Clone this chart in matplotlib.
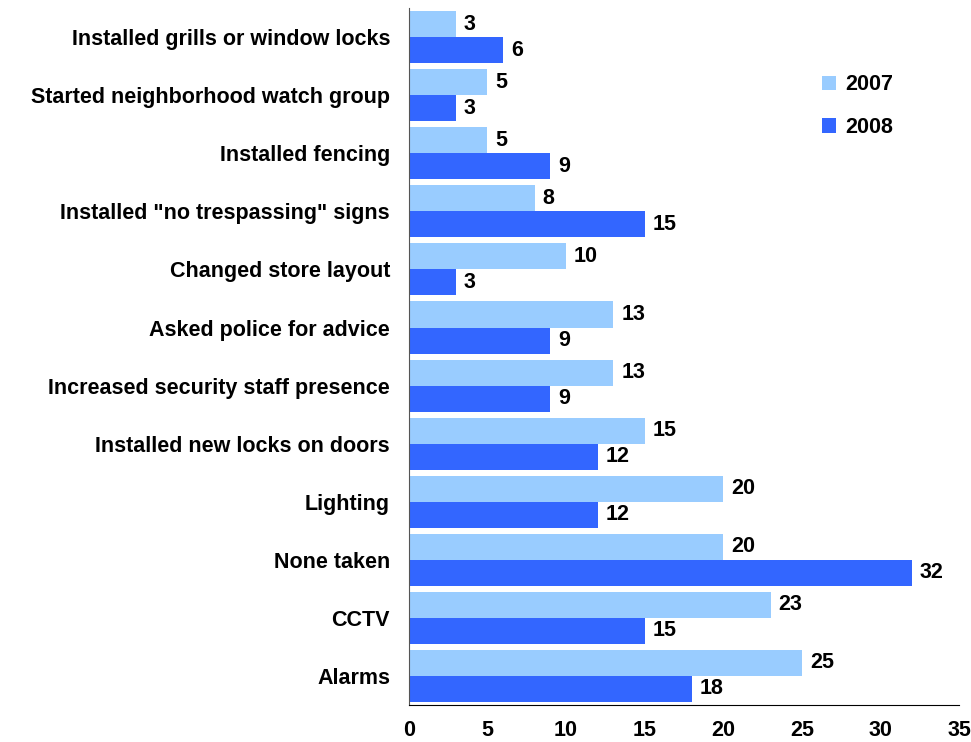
import matplotlib.pyplot as plt
import numpy as np

plt.rcParams['font.family'] = ['Liberation Sans', 'DejaVu Sans']
plt.rcParams['font.weight'] = 'bold'

# Actions taken, listed from top to bottom
actions = ['Installed grills or window locks',
           'Started neighborhood watch group',
           'Installed fencing',
           'Installed "no trespassing" signs',
           'Changed store layout',
           'Asked police for advice',
           'Increased security staff presence',
           'Installed new locks on doors',
           'Lighting',
           'None taken',
           'CCTV',
           'Alarms']
v2007 = [3, 5, 5, 8, 10, 13, 13, 15, 20, 20, 23, 25]
v2008 = [6, 3, 9, 15, 3, 9, 9, 12, 12, 32, 15, 18]

fs = 15.5

fig = plt.figure(figsize=(9.71, 7.42), dpi=100)
ax = fig.add_axes([0.421, 0.050, 0.567, 0.939])

y = np.arange(len(actions))
h = 0.448
b1 = ax.barh(y - h / 2, v2007, height=h, color='#99CCFF', label='2007')
b2 = ax.barh(y + h / 2, v2008, height=h, color='#3366FF', label='2008')

# Value labels next to each bar
for bars, vals in ((b1, v2007), (b2, v2008)):
    for bar, v in zip(bars, vals):
        ax.text(v + 0.5, bar.get_y() + bar.get_height() / 2, str(v),
                va='center', ha='left', fontsize=fs, fontweight='bold')

ax.set_xlim(0, 35)
ax.set_ylim(len(actions) - 0.5, -0.5)
ax.set_xticks(range(0, 36, 5))
ax.set_yticks(y)
ax.set_yticklabels(actions)
ax.tick_params(axis='both', length=0, labelsize=fs)
ax.tick_params(axis='x', pad=11)
ax.tick_params(axis='y', pad=13.5)

for side in ('top', 'right'):
    ax.spines[side].set_visible(False)
ax.spines['left'].set_color('#555555')
ax.spines['bottom'].set_color('black')

ax.legend(loc='upper left', bbox_to_anchor=(0.751, 0.905), frameon=False,
          fontsize=fs, handlelength=0.65, handleheight=0.65, labelspacing=1.0,
          handletextpad=0.4, borderpad=0, borderaxespad=0)

fig.savefig('out.png', dpi=100)
